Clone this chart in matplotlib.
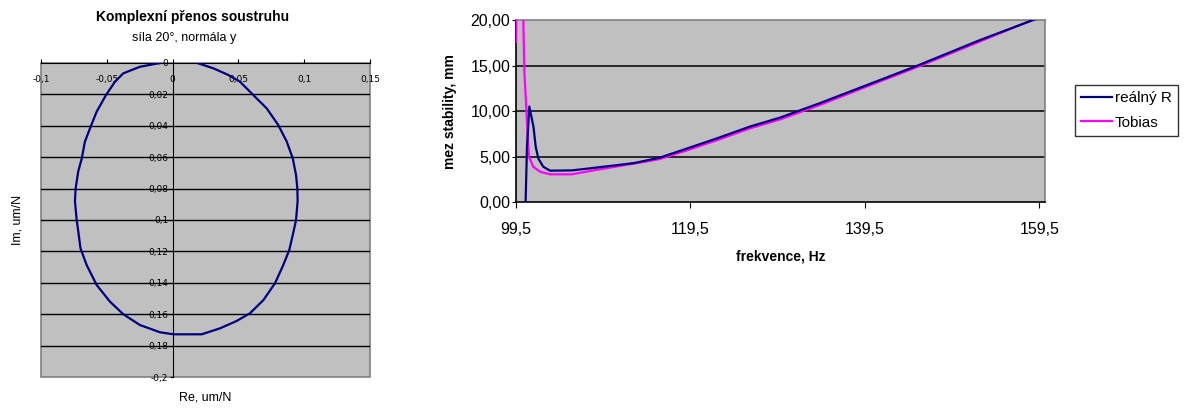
import matplotlib
matplotlib.use('Agg')
import matplotlib.pyplot as plt
from matplotlib.patches import Rectangle

plt.rcParams['font.family'] = ['Liberation Sans', 'DejaVu Sans']

# left chart - complex transfer (Re, Im), um/N
re_vals = [-0.0096, -0.0248, -0.0375, -0.0438, -0.0506, -0.0577, -0.062, -0.0666, -0.069, -0.0717,
           -0.0737, -0.0742, -0.0729, -0.0717, -0.070, -0.0653, -0.0577, -0.0476, -0.0375, -0.0248,
           -0.0096, 0.0005, 0.0221, 0.036, 0.0487, 0.0588, 0.069, 0.0778, 0.0841, 0.0887,
           0.0913, 0.0938, 0.095, 0.0948, 0.0938, 0.0913, 0.0867, 0.0803, 0.0715, 0.0613,
           0.0512, 0.0423, 0.031, 0.0195, 0.012, 0.004, -0.004, -0.0096]
im_vals = [0.0, -0.0024, -0.0066, -0.0119, -0.0204, -0.031, -0.040, -0.050, -0.0607, -0.069,
           -0.080, -0.088, -0.100, -0.107, -0.118, -0.1287, -0.1414, -0.152, -0.160, -0.1669,
           -0.1715, -0.1728, -0.1728, -0.169, -0.1643, -0.1594, -0.151, -0.1403, -0.1287, -0.119,
           -0.1096, -0.100, -0.088, -0.080, -0.0713, -0.0607, -0.050, -0.0395, -0.0289, -0.0204,
           -0.0119, -0.0076, -0.0034, -0.0002, 0.002, 0.003, 0.002, 0.0]

re_ticks = [-0.1, -0.05, 0, 0.05, 0.1, 0.15]
re_ticklabels = ['-0,1', '-0,05', '0', '0,05', '0,1', '0,15']
im_ticks = [0, -0.02, -0.04, -0.06, -0.08, -0.1, -0.12, -0.14, -0.16, -0.18, -0.2]
im_ticklabels = ['0', '0,02', '0,04', '0,06', '0,08', '0,1', '0,12', '0,14', '0,16', '0,18', '-0,2']

# right chart - stability limit vs frequency
freq_real = [100.6, 100.76, 101.03, 101.5, 101.76, 102.06, 102.63, 103.4, 105.9, 108.2,
             110.85, 113.0, 116.0, 119.1, 122.5, 126.3, 129.8, 134.4, 141.2, 145.8, 152.7, 158.8, 160.2]
lim_real = [0.0, 6.1, 10.5, 8.3, 6.1, 4.8, 3.9, 3.47, 3.5, 3.75,
            4.05, 4.3, 4.9, 5.9, 7.0, 8.3, 9.3, 10.9, 13.4, 15.1, 17.8, 20.0, 20.5]

freq_tobias = [99.5, 99.9, 100.34, 100.45, 100.65, 100.84, 100.99, 101.48, 102.25, 103.4,
               105.89, 108.2, 110.85, 114.3, 116.0, 119.1, 122.5, 126.3, 129.8, 134.4,
               141.2, 145.8, 152.7, 158.8, 160.2]
lim_tobias = [17.6, 60.0, 20.0, 14.5, 10.86, 7.2, 5.0, 3.9, 3.36, 3.07,
              3.07, 3.47, 3.9, 4.45, 4.75, 5.7, 6.8, 8.1, 9.1, 10.7,
              13.25, 14.95, 17.65, 20.05, 20.5]

freq_ticks = [99.5, 119.5, 139.5, 159.5]
freq_ticklabels = ['99,5', '119,5', '139,5', '159,5']
lim_ticks = [0, 5, 10, 15, 20]
lim_ticklabels = ['0,00', '5,00', '10,00', '15,00', '20,00']

W, H = 1185, 409
fig = plt.figure(figsize=(W / 100, H / 100), dpi=100)
plot_bg = '#C0C0C0'
border = '#808080'

# ---- left chart ----
ax1 = fig.add_axes([41 / W, 1 - 377 / H, 329 / W, 314 / H])
ax1.set_facecolor(plot_bg)
ax1.set_xlim(-0.1, 0.15)
ax1.set_ylim(-0.2, 0)
for y in im_ticks[1:-1]:
    ax1.axhline(y, color='black', lw=1.0, zorder=1)
ax1.plot(re_vals, im_vals, color='#000080', lw=1.6, zorder=3)

for s in ['bottom', 'right']:
    ax1.spines[s].set_visible(False)
ax1.spines['left'].set_position(('data', 0))
ax1.spines['left'].set_zorder(2)
ax1.spines['top'].set_color('black')
ax1.add_patch(Rectangle((0, 0), 1, 1, transform=ax1.transAxes, fill=False,
                        edgecolor=border, lw=1.2, zorder=0.5, clip_on=False))

ax1.set_xticks(re_ticks)
ax1.set_xticklabels(re_ticklabels, family='DejaVu Sans')
ax1.set_yticks(im_ticks)
ax1.set_yticklabels(im_ticklabels, family='DejaVu Sans')
ax1.tick_params(axis='x', top=True, bottom=False, labeltop=True, labelbottom=False,
                direction='out', length=3, pad=-18, labelsize=6.5)
ax1.tick_params(axis='y', direction='out', length=2, pad=1, labelsize=6.5)

fig.text(193 / W, 1 - 17 / H, 'Komplexní přenos soustruhu', ha='center', va='center',
         fontsize=10, fontweight='bold')
fig.text(184 / W, 1 - 38 / H, 'síla 20°, normála y', ha='center', va='center', fontsize=9)
fig.text(17 / W, 1 - 220 / H, 'Im, um/N', ha='center', va='center', rotation=90, fontsize=9)
fig.text(205 / W, 1 - 398 / H, 'Re, um/N', ha='center', va='center', fontsize=9)

# ---- right chart ----
ax2 = fig.add_axes([516 / W, 1 - 202.3 / H, 529 / W, 182.3 / H])
ax2.set_facecolor(plot_bg)
ax2.set_xlim(99.5, 160.15)
ax2.set_ylim(0, 20)
for y in lim_ticks[1:-1]:
    ax2.axhline(y, color='black', lw=1.1, zorder=1)
ax2.plot(freq_tobias, lim_tobias, color='#FF00FF', lw=1.6, zorder=3, label='Tobias')
ax2.plot(freq_real, lim_real, color='#000080', lw=1.6, zorder=4, label='reálný R')

ax2.spines['left'].set_color('black')
ax2.spines['bottom'].set_color('black')
ax2.spines['top'].set_color(border)
ax2.spines['right'].set_color(border)
for s in ax2.spines.values():
    s.set_linewidth(1.2)

ax2.set_xticks(freq_ticks)
ax2.set_xticklabels(freq_ticklabels)
ax2.set_yticks(lim_ticks)
ax2.set_yticklabels(lim_ticklabels)
ax2.tick_params(axis='x', direction='out', length=4, pad=10, labelsize=11.5)
ax2.tick_params(axis='y', direction='out', length=3, pad=1, labelsize=11.5)
ax2.set_ylabel('mez stability, mm', fontsize=10, fontweight='bold', labelpad=10)
ax2.set_xlabel('frekvence, Hz', fontsize=10, fontweight='bold', labelpad=9)

handles, labels = ax2.get_legend_handles_labels()
leg = fig.legend(handles[::-1], labels[::-1], loc='upper left',
                 bbox_to_anchor=(1075 / W, 1 - 85 / H), fontsize=11, frameon=True,
                 fancybox=False, edgecolor='black', handlelength=2.0, handletextpad=0.2,
                 borderpad=0.4, labelspacing=0.7, borderaxespad=0)
leg.get_frame().set_linewidth(1.0)

fig.savefig('out.png', dpi=100)
